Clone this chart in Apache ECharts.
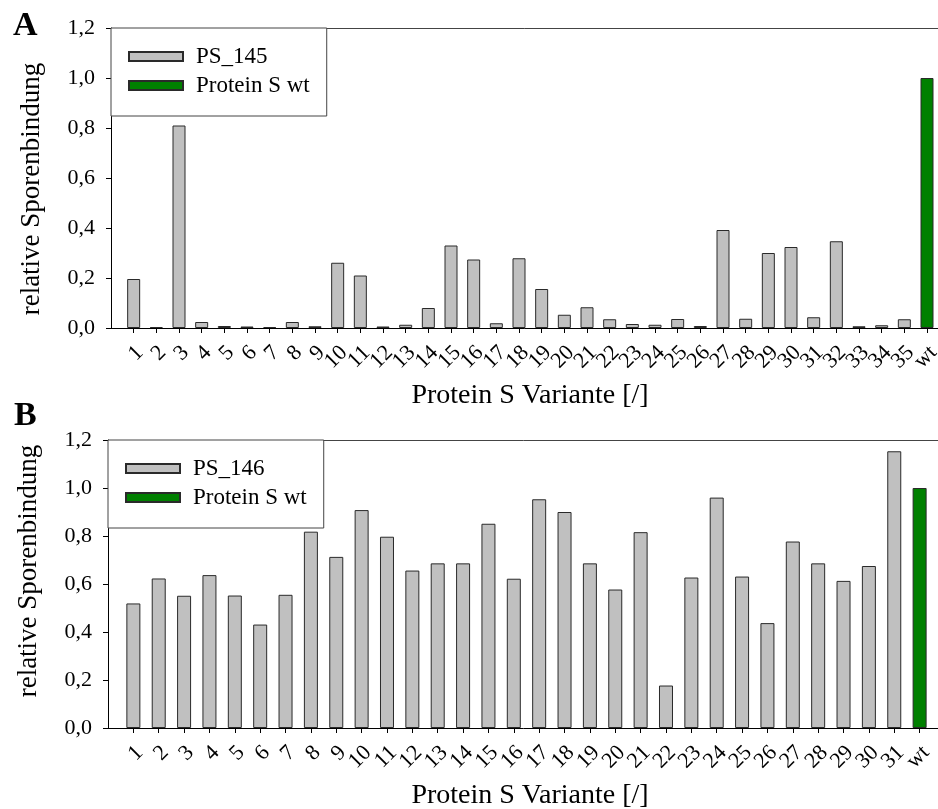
<!DOCTYPE html>
<html>
<head>
<meta charset="utf-8">
<script src="https://cdn.jsdelivr.net/npm/echarts@6/dist/echarts.min.js"></script>
<style>
html,body{margin:0;padding:0;background:#fff;}
#c{width:938px;height:809px;}
</style>
</head>
<body>
<div id="c"></div>
<script>
// ---- data ----
const catsA = ['1','2','3','4','5','6','7','8','9','10','11','12','13','14','15','16','17','18','19','20','21','22','23','24','25','26','27','28','29','30','31','32','33','34','35','wt'];
const ps145 = [0.196,0.004,0.81,0.024,0.008,0.006,0.004,0.024,0.007,0.261,0.21,0.006,0.013,0.08,0.33,0.274,0.019,0.279,0.156,0.053,0.083,0.035,0.016,0.013,0.036,0.008,0.392,0.037,0.30,0.324,0.043,0.347,0.007,0.011,0.035];
const wtA = 1.0;

const catsB = ['1','2','3','4','5','6','7','8','9','10','11','12','13','14','15','16','17','18','19','20','21','22','23','24','25','26','27','28','29','30','31','wt'];
const ps146 = [0.519,0.623,0.551,0.637,0.552,0.431,0.555,0.818,0.713,0.908,0.797,0.656,0.686,0.686,0.851,0.622,0.953,0.900,0.686,0.577,0.816,0.177,0.627,0.960,0.631,0.437,0.777,0.686,0.613,0.675,1.153];
const wtB = 1.0;

const yTicks = [0, 0.2, 0.4, 0.6, 0.8, 1.0, 1.2];
const xName = 'Protein S Variante [/]';
const yName = 'relative Sporenbindung';

// ---- chart ----
const FONT = 'Liberation Serif';
const GRAY = '#c0c0c0', GREEN = '#008000', EDGE = '#2a2a2a';

function xAxisFor(cats, gi, max, nameGap) {
  const pos = cats.map((c, i) => i + 1);
  // a trailing blank label (off-canvas) keeps the last real label from being dropped
  const labelPos = pos.concat([max]);
  return {
    type: 'value', gridIndex: gi, min: 0, max: max, interval: 1,
    axisLine: {show: true, onZero: false, lineStyle: {color: '#000', width: 1}},
    axisTick: {show: true, length: 5, customValues: pos, lineStyle: {color: '#000'}},
    axisLabel: {
      customValues: labelPos, rotate: 45, margin: 15,
      showMinLabel: true, showMaxLabel: true, hideOverlap: false,
      fontFamily: FONT, fontSize: 22, lineHeight: 18, verticalAlign: 'top', color: '#000',
      formatter: v => cats[Math.round(v) - 1] || ' '
    },
    splitLine: {show: false},
    name: xName, nameLocation: 'middle', nameGap: nameGap,
    nameTextStyle: {fontFamily: FONT, fontSize: 28, color: '#000', padding: [0, 12, 0, 0]}
  };
}
function topAxisFor(gi, max) {
  return {
    type: 'value', gridIndex: gi, position: 'top', min: 0, max: max,
    axisLine: {show: true, onZero: false, lineStyle: {color: '#444', width: 1}},
    axisTick: {show: false}, axisLabel: {show: false}, splitLine: {show: false}
  };
}
function yAxisFor(gi, namePad) {
  return {
    type: 'value', gridIndex: gi, min: 0, max: 1.2, interval: 0.2,
    axisLine: {show: true, onZero: false, lineStyle: {color: '#000', width: 1}},
    axisTick: {show: true, inside: false, length: 5, lineStyle: {color: '#000'}},
    axisLabel: {
      margin: 16, fontFamily: FONT, fontSize: 22, color: '#000',
      customValues: yTicks, showMinLabel: true, showMaxLabel: true,
      formatter: v => v.toFixed(1).replace('.', ',')
    },
    splitLine: {show: false},
    name: yName, nameLocation: 'middle', nameGap: 66, nameRotate: 90,
    nameTextStyle: {fontFamily: FONT, fontSize: 27, color: '#000', padding: namePad}
  };
}
function legendFor(names, left, top) {
  return {
    orient: 'vertical', left: left, top: top,
    data: names, itemWidth: 54, itemHeight: 9, itemGap: 6,
    padding: [17, 17, 19, 17],
    borderColor: '#444', borderWidth: 1, backgroundColor: '#fff',
    selectedMode: false,
    textStyle: {fontFamily: FONT, fontSize: 23, color: '#000', padding: [0, 0, 0, 8]},
    icon: 'rect'
  };
}

const chart = echarts.init(document.getElementById('c'), null, {renderer: 'canvas'});
chart.setOption({
  backgroundColor: '#fff',
  animation: false,
  title: [
    {text: 'A', left: 8, top: 4, textStyle: {fontFamily: FONT, fontSize: 34, fontWeight: 'bold', color: '#000'}},
    {text: 'B', left: 9, top: 394, textStyle: {fontFamily: FONT, fontSize: 34, fontWeight: 'bold', color: '#000'}}
  ],
  legend: [
    legendFor(['PS_145', 'Protein S wt'], 111, 28),
    legendFor(['PS_146', 'Protein S wt'], 108, 440)
  ],
  grid: [
    {left: 111, top: 28, right: -23, bottom: 809 - 328, containLabel: false, outerBoundsMode: 'none'},
    {left: 108, top: 440, right: -26, bottom: 809 - 728, containLabel: false, outerBoundsMode: 'none'}
  ],
  xAxis: [
    xAxisFor(catsA, 0, 37.5, 54),
    xAxisFor(catsB, 1, 33.75, 54),
    topAxisFor(0, 37.5),
    topAxisFor(1, 33.75)
  ],
  yAxis: [yAxisFor(0, [0, 22, 0, 0]), yAxisFor(1, [0, 0, 0, 26])],
  series: [
    {name: 'PS_145', type: 'bar', xAxisIndex: 0, yAxisIndex: 0, stack: 'a', barWidth: 13,
     itemStyle: {color: GRAY, borderColor: EDGE, borderWidth: 1},
     data: ps145.map((v, i) => [i + 1, v])},
    {name: 'Protein S wt', type: 'bar', xAxisIndex: 0, yAxisIndex: 0, stack: 'a', barWidth: 13,
     itemStyle: {color: GREEN, borderColor: EDGE, borderWidth: 1},
     data: [[catsA.length, wtA]]},
    {name: 'PS_146', type: 'bar', xAxisIndex: 1, yAxisIndex: 1, stack: 'b', barWidth: 14,
     itemStyle: {color: GRAY, borderColor: EDGE, borderWidth: 1},
     data: ps146.map((v, i) => [i + 1, v])},
    {name: 'Protein S wt', type: 'bar', xAxisIndex: 1, yAxisIndex: 1, stack: 'b', barWidth: 14,
     itemStyle: {color: GREEN, borderColor: EDGE, borderWidth: 1},
     data: [[catsB.length, wtB]]}
  ]
});
</script>
</body>
</html>
